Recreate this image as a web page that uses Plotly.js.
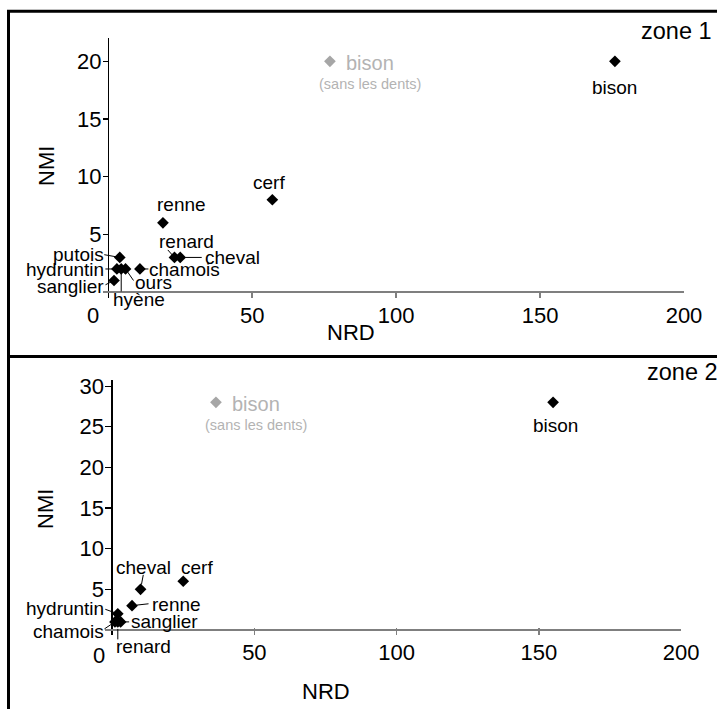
<!DOCTYPE html>
<html>
<head>
<meta charset="utf-8">
<script src="https://cdn.plot.ly/plotly-3.0.1.min.js"></script>
<style>html,body{margin:0;padding:0;background:#fff;}#chart{width:717px;height:709px;}</style>
</head>
<body>
<div id="chart"></div>
<script>
// ---------- DATA ----------
// Zone 1
var zone1Species = ['bison', 'cerf', 'renne', 'renard', 'cheval', 'chamois', 'putois', 'hydruntin', 'hyène', 'ours', 'sanglier'];
var zone1NRD     = [176, 57, 19, 23, 25, 11, 4, 3, 4.5, 6, 2];
var zone1NMI     = [20, 8, 6, 3, 3, 2, 3, 2, 2, 2, 1];
var zone1BisonSansDentsNRD = [77];
var zone1BisonSansDentsNMI = [20];

// Zone 2
var zone2Species = ['bison', 'cerf', 'cheval', 'renne', 'hydruntin', 'sanglier', 'chamois', 'renard'];
var zone2NRD     = [155, 25, 10, 7, 2, 3, 1, 2];
var zone2NMI     = [28, 6, 5, 3, 2, 1, 1, 1];
var zone2BisonSansDentsNRD = [36.5];
var zone2BisonSansDentsNMI = [28];

// Tick labels
var zone1XTicks = [50, 100, 150, 200];
var zone1YTicks = [5, 10, 15, 20];
var zone2XTicks = [50, 100, 150, 200];
var zone2YTicks = [5, 10, 15, 20, 25, 30];

var xTitle = 'NRD';
var yTitle = 'NMI';
var zoneNames = ['zone 1', 'zone 2'];
var greyLabel = 'bison';
var greySubLabel = '(sans les dents)';

// ---------- LABEL PLACEMENT (pixel offsets; positions only) ----------
// t: text centre offset [dx, dy] (dy down), l: leader-line tail offset [dx, dy], s: standoff
var zone1Place = {
  'bison':     {t: [0, 26]},
  'cerf':      {t: [-3, -17]},
  'renne':     {t: [19, -18]},
  'renard':    {t: [12, -16], l: [-8, -9], s: 3},
  'cheval':    {t: [52, 0], l: [23, 0], s: 5},
  'chamois':   {t: [45, 1], l: [10, 0], s: 4},
  'putois':    {t: [-41, -3], l: [-17, -3], s: 3},
  'hydruntin': {t: [-52, 1], l: [-13, 0], s: 1},
  'hyène':     {t: [18, 31], l: [0, 24], s: 0},
  'ours':      {t: [28, 14], l: [9, 13], s: 3},
  'sanglier':  {t: [-44, 6], l: [-10, 5], s: 2}
};
var zone2Place = {
  'bison':     {t: [2, 23]},
  'cerf':      {t: [14, -14]},
  'cheval':    {t: [3, -22], l: [3, -16], s: 5},
  'renne':     {t: [44, -1], l: [18, -2], s: 5},
  'hydruntin': {t: [-53, -5], l: [-14, -5], s: 2},
  'sanglier':  {t: [44, 0], l: [10, 0], s: 3},
  'chamois':   {t: [-46, 10], l: [-12, 8], s: 1},
  'renard':    {t: [26, 25], l: [0, 19], s: 7}
};

// ---------- STYLE ----------
var FONT = 'Liberation Sans, Arial, Helvetica, sans-serif';
var W = 717, H = 709;
var GREY_TXT = '#b3b3b3';
var GREY_MK = '#a6a6a6';
var AXGREY = '#7f7f7f';
var LBL = 19;
var TICK = 22;
var TITLE = 22;

function px(v) { return v / W; }
function py(v) { return 1 - v / H; }

var traces = [
  {x: zone1NRD, y: zone1NMI, xaxis: 'x', yaxis: 'y', type: 'scatter', mode: 'markers',
   marker: {symbol: 'diamond', size: 9, color: '#000'}, hoverinfo: 'skip'},
  {x: zone1BisonSansDentsNRD, y: zone1BisonSansDentsNMI, xaxis: 'x', yaxis: 'y', type: 'scatter', mode: 'markers',
   marker: {symbol: 'diamond', size: 9, color: GREY_MK}, hoverinfo: 'skip'},
  {x: zone2NRD, y: zone2NMI, xaxis: 'x2', yaxis: 'y2', type: 'scatter', mode: 'markers',
   marker: {symbol: 'diamond', size: 9, color: '#000'}, hoverinfo: 'skip'},
  {x: zone2BisonSansDentsNRD, y: zone2BisonSansDentsNMI, xaxis: 'x2', yaxis: 'y2', type: 'scatter', mode: 'markers',
   marker: {symbol: 'diamond', size: 9, color: GREY_MK}, hoverinfo: 'skip'}
];

var annotations = [];
function addLabels(species, xs, ys, place, xr, yr) {
  for (var i = 0; i < species.length; i++) {
    var p = place[species[i]];
    if (p.l) {
      annotations.push({x: xs[i], y: ys[i], xref: xr, yref: yr, text: '', showarrow: true,
        arrowhead: 0, arrowwidth: 1, arrowcolor: '#000', ax: p.l[0], ay: p.l[1], standoff: p.s || 0});
    }
    annotations.push({x: xs[i], y: ys[i], xref: xr, yref: yr, text: species[i], showarrow: false,
      xanchor: 'center', yanchor: 'middle', xshift: p.t[0], yshift: -p.t[1], borderpad: 0,
      font: {family: FONT, size: LBL, color: '#000'}});
  }
}
addLabels(zone1Species, zone1NRD, zone1NMI, zone1Place, 'x', 'y');
addLabels(zone2Species, zone2NRD, zone2NMI, zone2Place, 'x2', 'y2');

// grey "bison (sans les dents)" labels
[[zone1BisonSansDentsNRD, zone1BisonSansDentsNMI, 'x', 'y'], [zone2BisonSansDentsNRD, zone2BisonSansDentsNMI, 'x2', 'y2']].forEach(function (g) {
  annotations.push({x: g[0][0], y: g[1][0], xref: g[2], yref: g[3], text: greyLabel, showarrow: false,
    xanchor: 'center', yanchor: 'middle', xshift: 40, yshift: -2, font: {family: FONT, size: 20, color: GREY_TXT}});
  annotations.push({x: g[0][0], y: g[1][0], xref: g[2], yref: g[3], text: greySubLabel, showarrow: false,
    xanchor: 'center', yanchor: 'middle', xshift: 40, yshift: -23, font: {family: FONT, size: 14.5, color: GREY_TXT}});
});

// axis titles, zone names, "0" labels
annotations.push({xref: 'paper', yref: 'paper', x: px(47), y: py(166), text: yTitle, textangle: -90, showarrow: false,
  xanchor: 'center', yanchor: 'middle', font: {family: FONT, size: TITLE, color: '#000'}});
annotations.push({xref: 'paper', yref: 'paper', x: px(45), y: py(509), text: yTitle, textangle: -90, showarrow: false,
  xanchor: 'center', yanchor: 'middle', font: {family: FONT, size: TITLE, color: '#000'}});
annotations.push({xref: 'paper', yref: 'paper', x: px(351), y: py(333), text: xTitle, showarrow: false,
  xanchor: 'center', yanchor: 'middle', font: {family: FONT, size: TITLE, color: '#000'}});
annotations.push({xref: 'paper', yref: 'paper', x: px(326), y: py(691), text: xTitle, showarrow: false,
  xanchor: 'center', yanchor: 'middle', font: {family: FONT, size: TITLE, color: '#000'}});
annotations.push({xref: 'paper', yref: 'paper', x: px(714), y: py(31), text: zoneNames[0], showarrow: false,
  xanchor: 'right', yanchor: 'middle', font: {family: FONT, size: 23.5, color: '#000'}});
annotations.push({xref: 'paper', yref: 'paper', x: px(645), y: py(372), text: zoneNames[1], showarrow: false,
  xanchor: 'left', yanchor: 'middle', font: {family: FONT, size: 23.5, color: '#000'}});
annotations.push({xref: 'x', yref: 'paper', x: 0, y: py(315), xshift: -15, text: '0', showarrow: false,
  xanchor: 'center', yanchor: 'middle', font: {family: FONT, size: TICK, color: '#000'}});
annotations.push({xref: 'x2', yref: 'paper', x: 0, y: py(655), xshift: -13, text: '0', showarrow: false,
  xanchor: 'center', yanchor: 'middle', font: {family: FONT, size: TICK, color: '#000'}});

function xAxis(domain, range, ticks) {
  return {domain: domain, range: range, tickmode: 'array', tickvals: ticks, ticks: 'inside', ticklen: 7,
    tickwidth: 1.5, tickcolor: AXGREY, showgrid: false, showline: false, zeroline: true, zerolinecolor: '#000',
    zerolinewidth: 1.5, tickfont: {family: FONT, size: TICK, color: '#000'}, ticklabelstandoff: 2, fixedrange: true};
}
function yAxis(domain, range, ticks) {
  return {domain: domain, range: range, tickmode: 'array', tickvals: ticks, ticks: 'inside', ticklen: 6,
    tickwidth: 1.2, tickcolor: '#000', showgrid: false, showline: false, zeroline: true, zerolinecolor: AXGREY,
    zerolinewidth: 2, tickfont: {family: FONT, size: TICK, color: '#000'}, ticklabelstandoff: 0, fixedrange: true};
}

var layout = {
  width: W, height: H,
  margin: {l: 0, r: 0, t: 0, b: 0},
  paper_bgcolor: '#fff', plot_bgcolor: 'rgba(0,0,0,0)',
  showlegend: false,
  hovermode: false,
  xaxis: Object.assign(xAxis([px(102.5), px(684)], [-2, 200], zone1XTicks), {anchor: 'y'}),
  yaxis: Object.assign(yAxis([py(297.8), py(38.3)], [-0.5, 22], zone1YTicks), {anchor: 'x'}),
  xaxis2: Object.assign(xAxis([px(105), px(681.1)], [-2.5, 200], zone2XTicks), {anchor: 'y2'}),
  yaxis2: Object.assign(yAxis([py(634.9), py(379.6)], [-0.6, 30.8], zone2YTicks), {anchor: 'x2'}),
  annotations: annotations,
  shapes: [
    {type: 'rect', xref: 'paper', yref: 'paper', x0: px(8.5), x1: 1.05, y0: -0.05, y1: py(11.3),
     line: {color: '#000', width: 3}},
    {type: 'line', xref: 'paper', yref: 'paper', x0: px(8.5), x1: 1.05, y0: py(356.5), y1: py(356.5),
     line: {color: '#000', width: 3}}
  ]
};

Plotly.newPlot('chart', traces, layout, {staticPlot: true, displayModeBar: false});
</script>
</body>
</html>
